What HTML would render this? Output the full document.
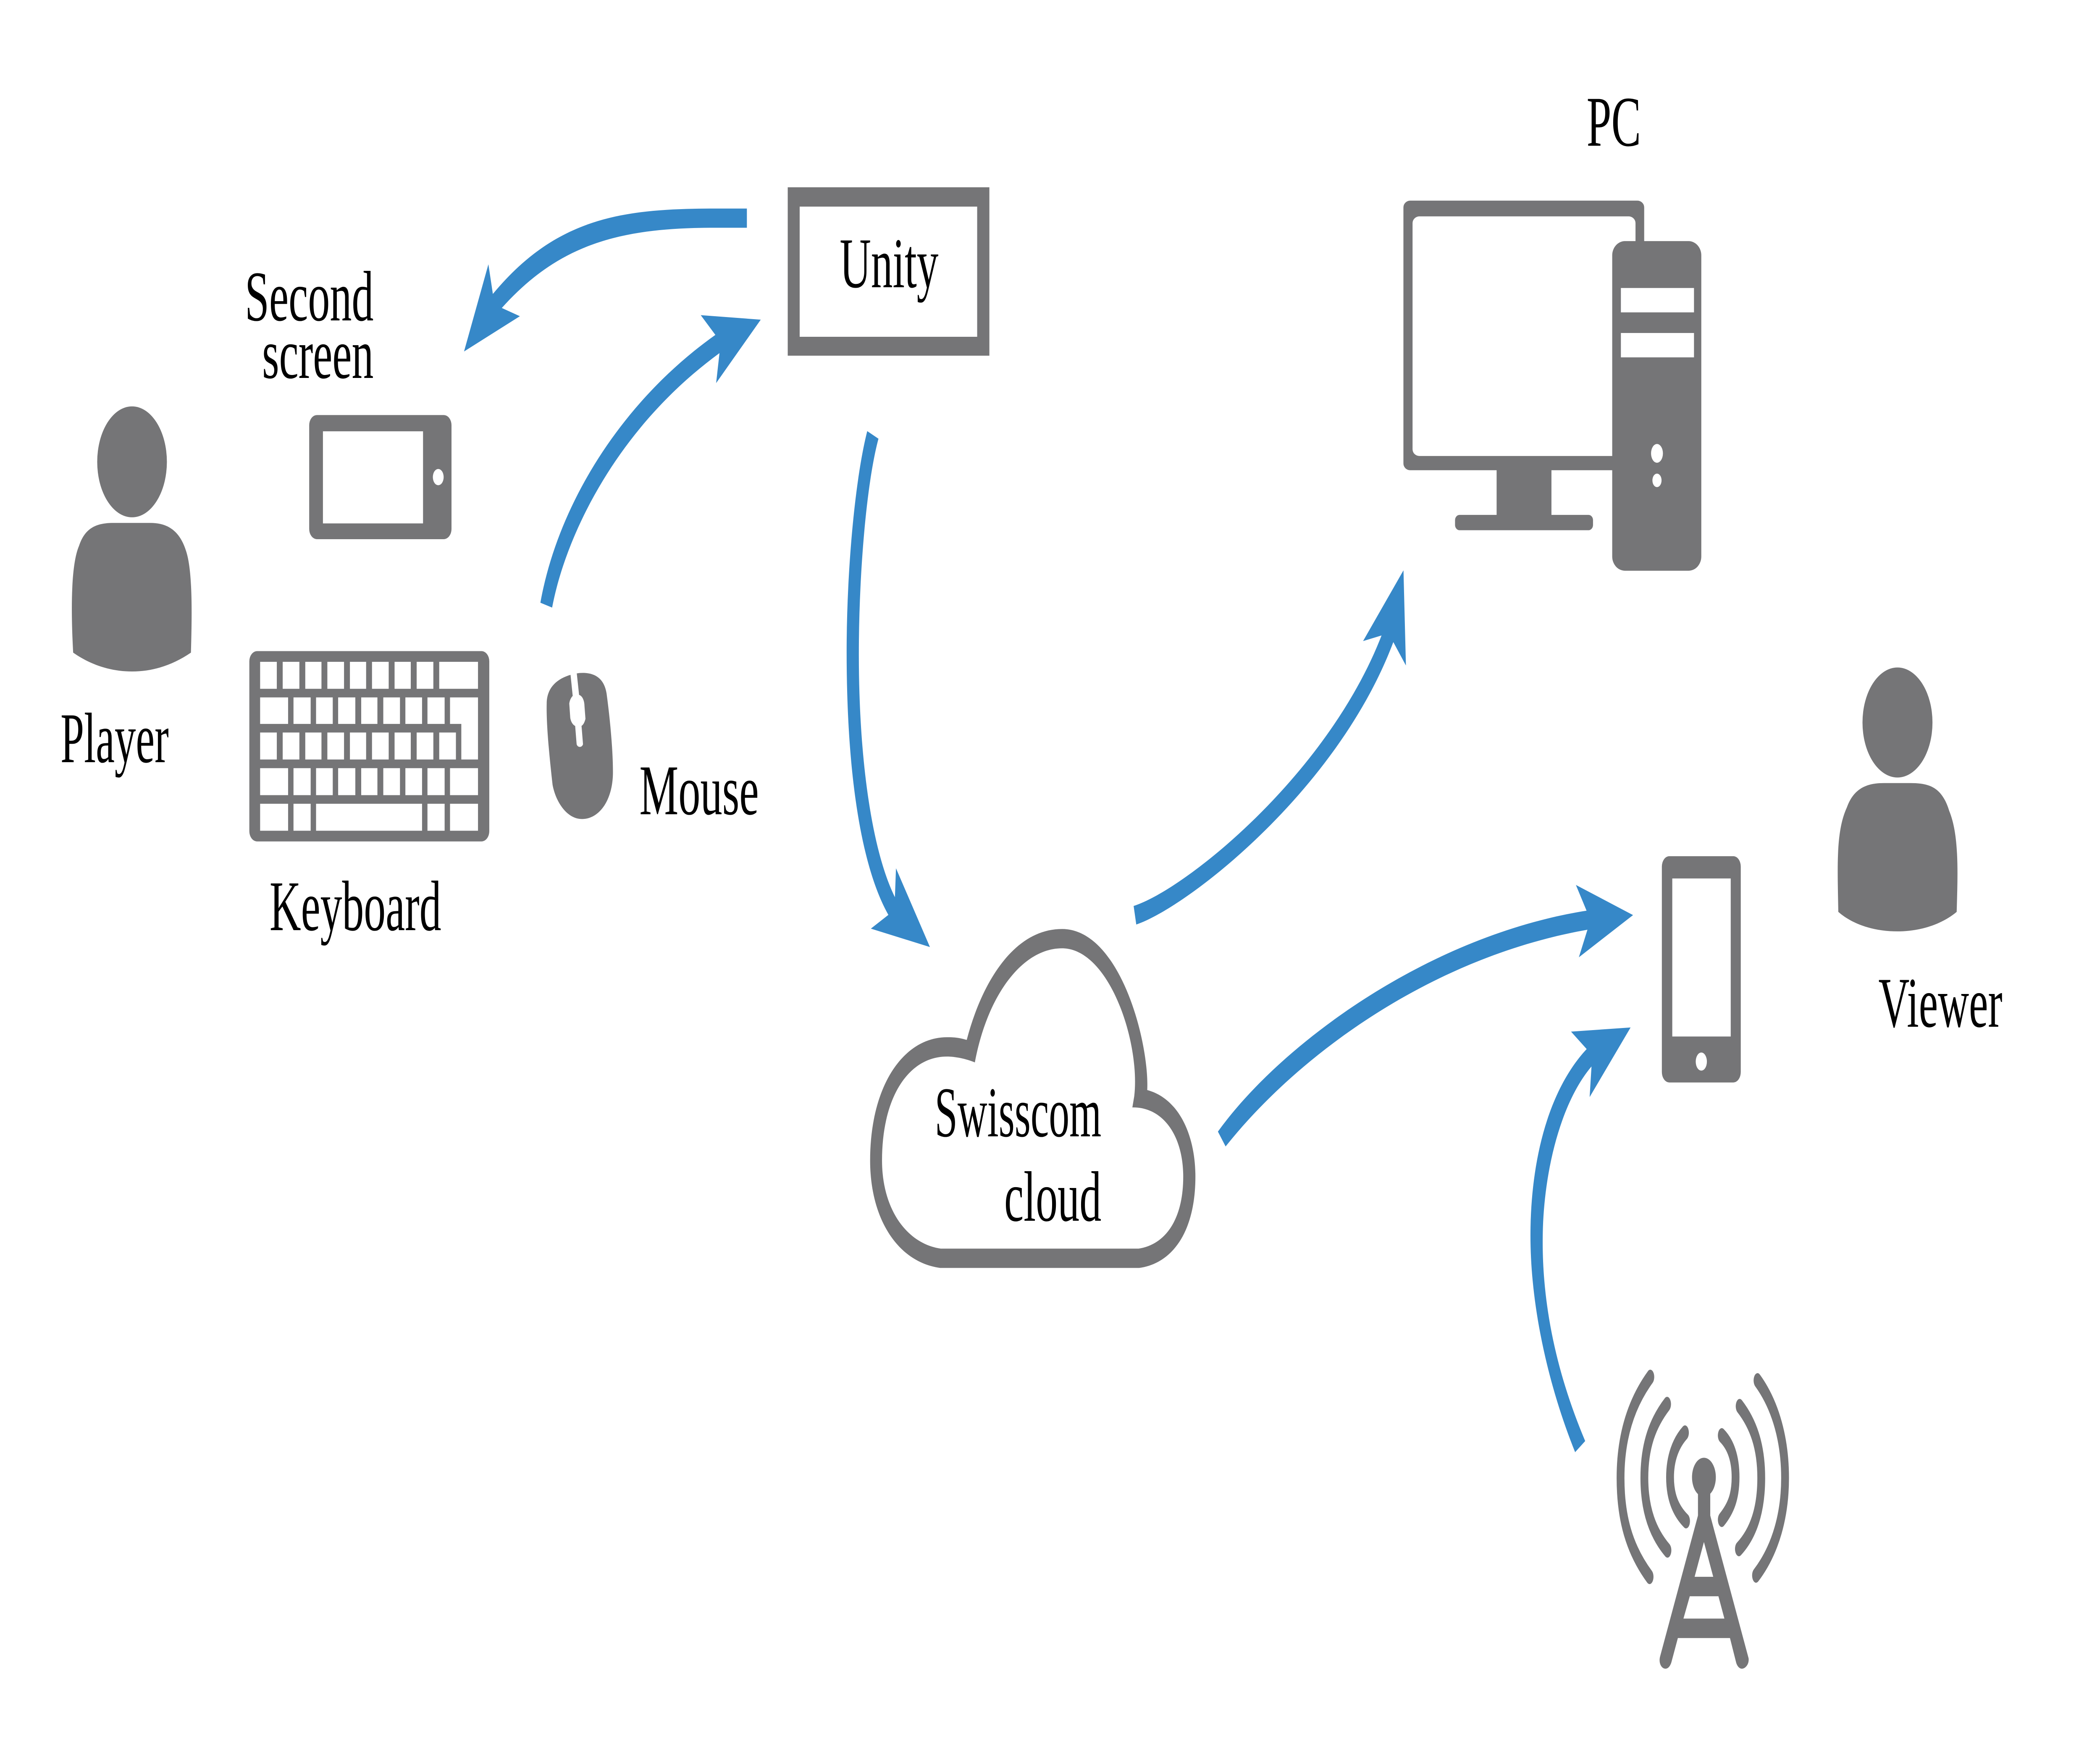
<!DOCTYPE html>
<html lang="en">
<head>
<meta charset="utf-8">
<title>Diagram</title>
<style>
html,body{margin:0;padding:0;background:#fff;width:100%;height:100%;overflow:hidden}
svg{display:block;width:100vw;height:100vh}
text{font-family:"Liberation Serif",serif;fill:#000;font-size:170px}
.g{fill:#757577}
.b{fill:#3688c8}
.w{fill:#fff}
.s{fill:none;stroke:#757577;stroke-width:33;stroke-linecap:round}
</style>
</head>
<body>
<svg xmlns="http://www.w3.org/2000/svg" viewBox="0 0 7915 4184" preserveAspectRatio="none">
<rect width="7915" height="4184" fill="#fff"/>

<!-- Left group -->
<g transform="translate(150,500) scale(1.8495,1.2117)">
  <ellipse class="g" cx="188" cy="495" rx="71" ry="109"/>
  <path class="g" d="M68,870C64,800 62,700 80,660C92,625 115,615 150,615L225,615C260,615 285,630 298,670C312,710 310,800 308,870C270,895 230,907 188,907C146,907 105,895 68,870Z"/>
  <rect class="g" x="549" y="403" width="290" height="244" rx="16" ry="20"/>
  <rect class="w" x="577" y="435" width="204" height="181"/>
  <ellipse class="w" cx="812" cy="525" rx="11" ry="16"/>
  <rect class="g" x="427" y="867" width="489" height="374" rx="16" ry="20"/>
  <g class="w">
    <path d="M449,888h34v53h-34zM495,888h34v53h-34zM541,888h33v53h-33zM586,888h34v53h-34zM632,888h33v53h-33zM677,888h34v53h-34zM723,888h33v53h-33zM768,888h34v53h-34zM814,888h79v53h-79z"/>
    <path d="M449,958h57v52h-57zM517,958h35v52h-35zM563,958h34v52h-34zM608,958h35v52h-35zM655,958h33v52h-33zM700,958h34v52h-34zM745,958h34v52h-34zM790,958h35v52h-35zM836,958h57v122h-34v-70h-23z"/>
    <path d="M449,1027h34v53h-34zM495,1027h34v53h-34zM541,1027h33v53h-33zM586,1027h34v53h-34zM632,1027h33v53h-33zM677,1027h34v53h-34zM723,1027h33v53h-33zM768,1027h34v53h-34zM814,1027h34v53h-34z"/>
    <path d="M449,1097h57v53h-57zM517,1097h35v53h-35zM563,1097h34v53h-34zM608,1097h35v53h-35zM655,1097h33v53h-33zM700,1097h34v53h-34zM745,1097h34v53h-34zM790,1097h35v53h-35zM836,1097h57v53h-57z"/>
    <path d="M449,1167h57v53h-57zM517,1167h35v53h-35zM563,1167h216v53h-216zM790,1167h35v53h-35zM836,1167h57v53h-57z"/>
  </g>
  <path class="g" d="M1033,970C1033,935 1060,915 1100,910C1130,908 1150,920 1155,950C1162,1000 1168,1060 1168,1105C1168,1160 1140,1197 1105,1197C1075,1197 1052,1165 1045,1130C1038,1070 1032,1010 1033,970Z"/>
  <path class="w" d="M1081,908L1094,908L1099,953C1106,955 1110,965 1110,975L1112,1000C1110,1008 1107,1012 1104,1014L1107,1050C1105,1057 1096,1057 1094,1050L1091,1014C1086,1012 1082,1005 1081,998L1079,970C1080,963 1083,958 1086,955Z"/>
</g>

<!-- Arrow Unity -> Second screen -->
<g transform="translate(1700,450) scale(.7653,.33333)">
  <path class="b" d="M1457,140L1300,140C850,140 520,200 206,750L184,538L64,1161L339,909L250,850C540,380 850,277 1300,277L1457,277Z"/>
</g>

<!-- Arrow Mouse -> Unity -->
<g transform="translate(2000,700) scale(.574,.5102)">
  <path class="b" d="M64,1441L141,1464C230,1130 560,630 1240,276L1218,416L1511,120L1117,99L1213,191C600,500 180,980 64,1441Z"/>
</g>

<!-- Unity box -->
<path class="g" fill-rule="evenodd" d="M2969,446H3729V847H2969ZM3014,492V802H3683V492Z"/>

<!-- Arrow Unity -> Cloud -->
<g transform="translate(3100,950) scale(.33333,.861)">
  <path class="b" d="M506,89L633,110C500,230 410,480 411,710C412,1000 560,1250 819,1378L831,1298L1215,1516L547,1465L745,1427C430,1290 273,1030 273,700C273,470 370,220 506,89Z"/>
</g>

<!-- Arrow Cloud -> PC -->
<g transform="translate(4200,1300) scale(.7653,.6059)">
  <path class="b" d="M95,1415L108,1488C360,1420 1100,960 1374,378L1436,470L1424,96L1225,374L1316,352C1050,900 350,1350 95,1415Z"/>
</g>

<!-- Arrow Cloud -> Phone -->
<g transform="translate(4500,2050) scale(1.116,.4783)">
  <path class="b" d="M81,1348L107,1422C350,970 800,480 1329,343L1300,480L1483,270L1290,120L1326,248C800,370 300,900 81,1348Z"/>
</g>

<!-- Cloud -->
<g transform="translate(3100,2100) scale(1.02,.638)">
  <path class="g" fill-rule="evenodd" d="M435,1441L1170,1441C1290,1425 1378,1310 1378,1100C1378,950 1320,810 1200,777C1208,600 1100,176 885,176C710,176 590,370 533,590C500,580 480,580 460,580C300,580 176,760 176,1040C176,1260 280,1420 435,1441ZM437,1369L1168,1369C1260,1355 1333,1270 1333,1100C1333,950 1260,840 1145,842L1152,800C1175,600 1060,248 885,248C740,248 610,420 563,674C530,660 490,652 460,652C320,652 220,800 220,1040C220,1220 310,1350 437,1369Z"/>
</g>

<!-- PC -->
<g transform="translate(5200,100) scale(1.722,.893)">
  <rect class="g" x="52" y="423" width="527" height="719" rx="15" ry="18"/>
  <rect class="w" x="72" y="465" width="488" height="639" rx="15" ry="18"/>
  <rect class="g" x="256" y="1140" width="120" height="125"/>
  <rect class="g" x="165" y="1261" width="302" height="41" rx="10" ry="14"/>
  <rect class="g" x="509" y="531" width="195" height="879" rx="28" ry="38"/>
  <rect class="w" x="528" y="656" width="160" height="65"/>
  <rect class="w" x="528" y="776" width="160" height="65"/>
  <ellipse class="w" cx="607" cy="1097" rx="13" ry="25"/>
  <ellipse class="w" cx="607" cy="1169" rx="10" ry="18"/>
</g>

<!-- Right group -->
<g transform="translate(5600,1500) scale(1.403,1.658)">
  <rect class="g" x="473" y="325" width="212" height="325" rx="20" ry="15"/>
  <rect class="w" x="501" y="357" width="157" height="227"/>
  <ellipse class="w" cx="579" cy="620" rx="15" ry="13"/>
  <ellipse class="g" cx="1106" cy="133" rx="94" ry="79"/>
  <path class="g" d="M947,405C945,340 940,290 970,255C990,225 1030,220 1070,220L1140,220C1190,220 1225,225 1245,260C1272,295 1268,350 1265,405C1220,425 1160,433 1106,433C1050,433 990,425 947,405Z"/>
  <path class="b" d="M267,1165C200,1080 150,980 153,870C155,780 200,680 284,627L279,671L389,571L229,577L271,602C170,660 120,760 120,870C120,980 175,1095 240,1181Z"/>
  <g transform="scale(1)" style="stroke-width:21">
    <path class="s" style="stroke-width:21" d="M442,1073C385,1115 362,1165 362,1218C362,1275 385,1320 440,1360"/>
    <path class="s" style="stroke-width:21" d="M487,1112C450,1138 426,1170 426,1218C426,1265 450,1298 488,1322"/>
    <path class="s" style="stroke-width:21" d="M535,1153C510,1168 495,1190 495,1217C495,1245 510,1265 538,1280"/>
    <path class="s" style="stroke-width:21" d="M730,1078C780,1115 804,1165 804,1218C804,1270 780,1320 726,1358"/>
    <path class="s" style="stroke-width:21" d="M682,1115C718,1140 740,1172 740,1218C740,1265 718,1298 680,1320"/>
    <path class="s" style="stroke-width:21" d="M634,1157C658,1170 671,1190 671,1217C671,1245 658,1262 634,1278"/>
  </g>
  <ellipse class="g" cx="586" cy="1217" rx="32" ry="28"/>
  <rect class="g" x="570" y="1235" width="33" height="42"/>
  <path class="g" fill-rule="evenodd" d="M570,1272L603,1272L706,1477C708,1485 698,1492 688,1492C680,1492 674,1487 672,1482L656,1448L516,1448L499,1482C496,1488 490,1492 483,1492C472,1492 464,1484 468,1475ZM586,1310L561,1360L611,1360ZM548,1388L531,1420L641,1420L625,1388Z"/>
</g>

<!-- Labels -->
<text x="3165" y="684" textLength="372" lengthAdjust="spacingAndGlyphs">Unity</text>
<text x="923" y="763" textLength="485" lengthAdjust="spacingAndGlyphs">Second</text>
<text x="988" y="900" textLength="420" lengthAdjust="spacingAndGlyphs">screen</text>
<text x="228" y="1815" textLength="408" lengthAdjust="spacingAndGlyphs">Player</text>
<text x="1016" y="2215" textLength="647" lengthAdjust="spacingAndGlyphs">Keyboard</text>
<text x="2410" y="1939" textLength="450" lengthAdjust="spacingAndGlyphs">Mouse</text>
<text x="5980" y="347" textLength="205" lengthAdjust="spacingAndGlyphs">PC</text>
<text x="7080" y="2445" textLength="467" lengthAdjust="spacingAndGlyphs">Viewer</text>
<text x="3523" y="2706" textLength="628" lengthAdjust="spacingAndGlyphs">Swisscom</text>
<text x="3785" y="2907" textLength="366" lengthAdjust="spacingAndGlyphs">cloud</text>
</svg>
</body>
</html>
